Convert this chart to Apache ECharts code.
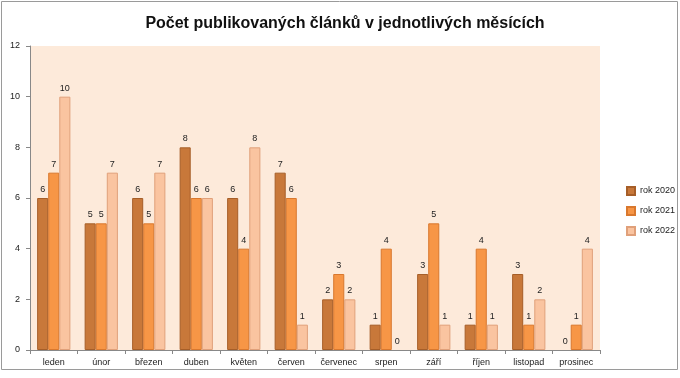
<!DOCTYPE html>
<html><head><meta charset="utf-8">
<script src="https://cdn.jsdelivr.net/npm/echarts@6/dist/echarts.min.js"></script>
<style>html,body{margin:0;padding:0;background:#fff}#c{width:680px;height:378px}</style>
</head><body><div id="c"></div>
<script>
const categories = ['leden','únor','březen','duben','květen','červen','červenec','srpen','září','říjen','listopad','prosinec'];
const rok2020 = [6,5,6,8,6,7,2,1,3,1,3,0];
const rok2021 = [7,5,5,6,4,6,3,4,5,4,1,1];
const rok2022 = [10,7,7,6,8,1,2,0,1,1,2,4];
const yTicks = [0,2,4,6,8,10,12];
const seriesNames = ['rok 2020','rok 2021','rok 2022'];
const colors = ['#C8783A','#F79646','#FAC4A0'];
const borders = ['#A65E28','#D9782E','#E0A07A'];
const font = '"Liberation Sans", "Open Sans", sans-serif';
const chart = echarts.init(document.getElementById('c'));
const mk = (name, data, i) => ({
  name, type:'bar',
  data: data.map(v => v === 0 ? {value:v, itemStyle:{borderWidth:0}} : v),
  barGap:'0%', barCategoryGap:'30%',
  itemStyle:{color:colors[i], borderColor:borders[i], borderWidth:1},
  label:{show:true, position:'top', fontSize:9, color:'#222', fontFamily:font, distance:4},
  emphasis:{disabled:true}
});
chart.setOption({
  animation:false,
  title:{text:'Počet publikovaných článků v jednotlivých měsících', left:340, textAlign:'center', top:11,
    textStyle:{fontSize:16, fontWeight:'bold', color:'#111', fontFamily:font}},
  graphic:[{type:'rect', shape:{x:1.5,y:1.5,width:676,height:368}, style:{fill:null, stroke:'#9a9a9a', lineWidth:1}, silent:true, z:-1}],
  legend:{orient:'vertical', left:621, top:181, itemWidth:8, itemHeight:8, itemGap:10,
    icon:'rect', textStyle:{fontSize:9, color:'#222', fontFamily:font}, data:seriesNames},
  grid:{left:30, right:80, top:46, bottom:28, show:true, backgroundColor:'#FDEADA', borderWidth:0},
  xAxis:{type:'category', data:categories,
    axisLine:{lineStyle:{color:'#888'}}, axisTick:{show:true, length:4, lineStyle:{color:'#888'}},
    axisLabel:{interval:0, fontSize:9, color:'#222', fontFamily:font, margin:8}},
  yAxis:{type:'value', min:yTicks[0], max:yTicks[yTicks.length-1], interval:2,
    axisLine:{show:true, lineStyle:{color:'#888'}}, axisTick:{show:true, length:4, lineStyle:{color:'#888'}},
    splitLine:{show:false}, axisLabel:{fontSize:9, color:'#222', fontFamily:font, margin:10}},
  series:[mk(seriesNames[0], rok2020, 0), mk(seriesNames[1], rok2021, 1), mk(seriesNames[2], rok2022, 2)]
});
</script></body></html>
